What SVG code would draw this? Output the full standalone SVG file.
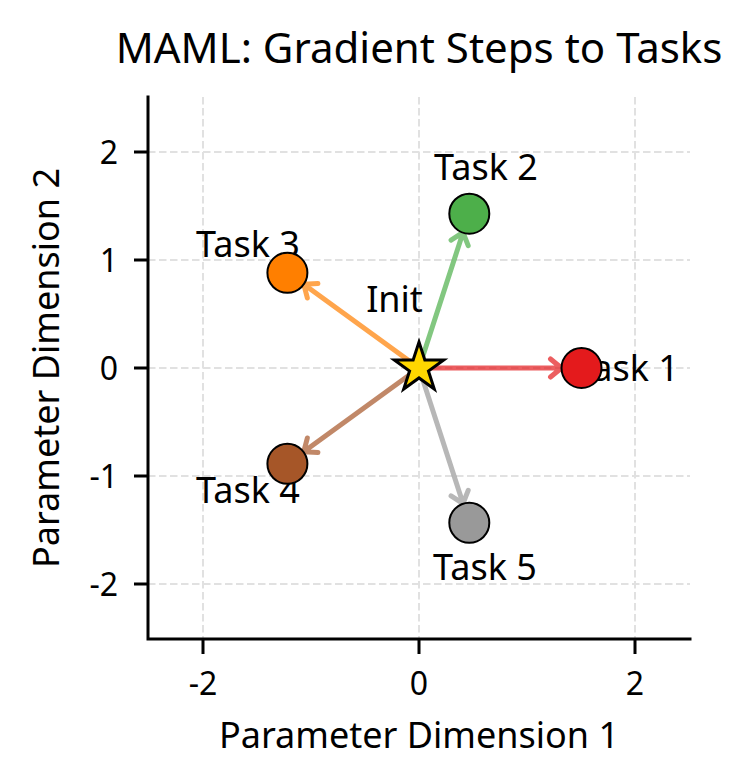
<svg xmlns="http://www.w3.org/2000/svg" width="750" height="784" viewBox="0 0 750 784">
<style>
text{font-family:"Noto Sans","DejaVu Sans",sans-serif;fill:#000}
.grid{stroke:#e1e1e1;stroke-width:2;stroke-dasharray:7.5 3.5;fill:none}
.spine{stroke:#000;stroke-width:3;fill:none;stroke-linecap:square}
.tick{stroke:#000;stroke-width:3;fill:none}
.tl{font-size:32px}
.lab{font-size:36px}
.title{font-size:42px}
.arr{fill:none;stroke-width:5;stroke-linecap:round;stroke-linejoin:round;stroke-opacity:0.7}
.pt{stroke:#000;stroke-width:2}
</style>
<rect width="750" height="784" fill="#fff"/>
<g id="axes">
<g id="grid">
<line class="grid" x1="203" y1="97" x2="203" y2="639"/>
<line class="grid" x1="419" y1="97" x2="419" y2="639"/>
<line class="grid" x1="635" y1="97" x2="635" y2="639"/>
<line class="grid" x1="148" y1="152" x2="690" y2="152"/>
<line class="grid" x1="148" y1="260" x2="690" y2="260"/>
<line class="grid" x1="148" y1="368" x2="690" y2="368"/>
<line class="grid" x1="148" y1="476" x2="690" y2="476"/>
<line class="grid" x1="148" y1="584" x2="690" y2="584"/>
</g>
<path class="spine" d="M148,97 V639 H690"/>
<path class="tick" d="M134,152 H148 M134,260 H148 M134,368 H148 M134,476 H148 M134,584 H148 M203,639 V654 M419,639 V654 M635,639 V654"/>
<g class="tl" text-anchor="end">
<text class="tl" x="118" y="163.5">2</text>
<text class="tl" x="118" y="271.5">1</text>
<text class="tl" x="118" y="379.5">0</text>
<text class="tl" x="118" y="487.5">-1</text>
<text class="tl" x="118" y="595.5">-2</text>
</g>
<g text-anchor="middle">
<text class="tl" x="203" y="695">-2</text>
<text class="tl" x="419" y="695">0</text>
<text class="tl" x="635" y="695">2</text>
<text class="lab" x="419" y="748">Parameter Dimension 1</text>
<text class="lab" transform="translate(59,368) rotate(-90)" x="0" y="0">Parameter Dimension 2</text>
<text class="title" x="419" y="63">MAML: Gradient Steps to Tasks</text>
</g>
</g>
<g id="connectors">
<path class="arr" stroke="#e41a1c" d="M419,368 L561.5,368 M550.5,377 L561.5,368 L550.5,359"/>
<path class="arr" stroke="#4daf4a" d="M419,368 L463.04,232.47 M468.2,245.71 L463.04,232.47 L451.08,240.15"/>
<path class="arr" stroke="#ff7f00" d="M419,368 L303.71,284.24 M317.9,283.43 L303.71,284.24 L307.32,297.99"/>
<path class="arr" stroke="#a65628" d="M419,368 L303.71,451.76 M307.32,438.01 L303.71,451.76 L317.9,452.57"/>
<path class="arr" stroke="#999999" d="M419,368 L463.04,503.53 M451.08,495.85 L463.04,503.53 L468.2,490.29"/>
</g>
<g id="task1">
<text class="lab" x="627" y="380.7" text-anchor="middle">Task 1</text>
<circle class="pt" cx="581.5" cy="368" r="20" fill="#e41a1c"/>
</g>
<g id="task2">
<text class="lab" x="486" y="180" text-anchor="middle">Task 2</text>
<circle class="pt" cx="469.3" cy="213.7" r="20" fill="#4daf4a"/>
</g>
<g id="task3">
<text class="lab" x="248" y="256.7" text-anchor="middle">Task 3</text>
<circle class="pt" cx="287.4" cy="272.8" r="20" fill="#ff7f00"/>
</g>
<g id="task4">
<text class="lab" x="248" y="503.3" text-anchor="middle">Task 4</text>
<circle class="pt" cx="287.4" cy="463.8" r="20" fill="#a65628"/>
</g>
<g id="task5">
<text class="lab" x="485" y="580" text-anchor="middle">Task 5</text>
<circle class="pt" cx="469.3" cy="522.8" r="20" fill="#999999"/>
</g>
<g id="init">
<text class="lab" x="394.5" y="311.7" text-anchor="middle">Init</text>
<path d="M419,342 L424.84,359.97 L443.73,359.97 L428.44,371.07 L434.28,389.03 L419,377.93 L403.72,389.03 L409.56,371.07 L394.27,359.97 L413.16,359.97 Z" fill="#ffd700" stroke="#000" stroke-width="3" stroke-linejoin="miter"/>
</g>
</svg>
